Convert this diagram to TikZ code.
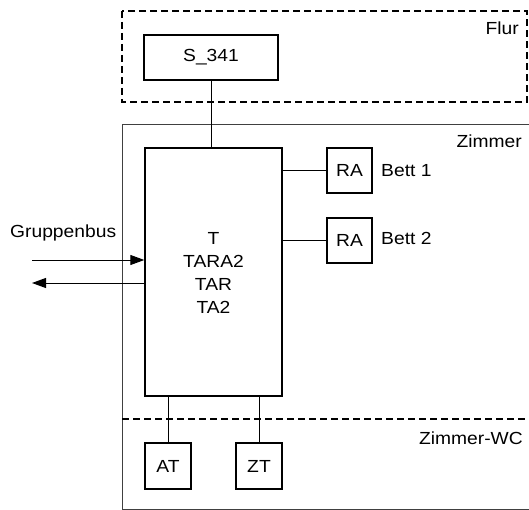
\documentclass[tikz,border=0pt]{standalone}
\usepackage{fontspec}
\setmainfont{Liberation Sans}[FakeStretch=1.1]
\usetikzlibrary{arrows.meta}
\begin{document}
\begin{tikzpicture}[x=1pt,y=-1pt,
  box/.style={draw,line width=1.4pt,minimum width=#1,minimum height=45pt,inner sep=0pt,font=\fontsize{17.5}{23}\selectfont},
  box/.default=45pt,
  lbl/.style={inner sep=0pt,font=\fontsize{17.5}{23}\selectfont},
  conn/.style={line width=0.8pt},
  zone/.style={line width=1.8pt,dash pattern=on 7pt off 4pt},
  bus/.style={line width=1pt,-{Triangle[length=14pt,width=10pt]}}]
\useasboundingbox (0,0) rectangle (529,510);
\clip (0,0) rectangle (529,510);
\draw[line width=0.9pt,draw=black!75] (122,124) rectangle (540,509);
\draw[zone] (122,11) rectangle (527,102);
\draw[zone] (122,419) -- (529,419);
\node[lbl,anchor=base east] (flur) at (519,35) {Flur};
\node[lbl,anchor=base east] (zimmer) at (522,148) {Zimmer};
\node[lbl,anchor=base east] (zwc) at (523,444) {Zimmer-WC};
\node[box=134pt] (S) at (211,57.5) {S\_341};
\node[draw,line width=1.4pt,minimum width=137pt,minimum height=248pt,inner sep=0pt] (T) at (213.5,272) {};
\node[lbl,align=center] (Tt) at (213.5,273) {T\\TARA2\\TAR\\TA2};
\node[box] (RA1) at (349.5,170.5) {RA};
\node[box] (RA2) at (349.5,240.5) {RA};
\node[lbl,anchor=base west] (b1) at (381,177) {Bett 1};
\node[lbl,anchor=base west] (b2) at (381,244) {Bett 2};
\node[box=46pt,minimum height=46pt] (AT) at (168,466) {AT};
\node[box=46pt,minimum height=46pt] (ZT) at (259,466) {ZT};
\draw[conn] (S.south) -- (S.south |- T.north);
\draw[conn] (T.east |- RA1.west) -- (RA1.west);
\draw[conn] (T.east |- RA2.west) -- (RA2.west);
\draw[conn] (AT.north) -- (AT.north |- T.south);
\draw[conn] (ZT.north) -- (ZT.north |- T.south);
\node[lbl,anchor=base west] (gb) at (10,238) {Gruppenbus};
\coordinate (in) at (32,260);
\coordinate (out) at (32,283);
\draw[bus] (in) -- (in -| T.west);
\draw[bus] (out -| T.west) -- (out);
\end{tikzpicture}
\end{document}
